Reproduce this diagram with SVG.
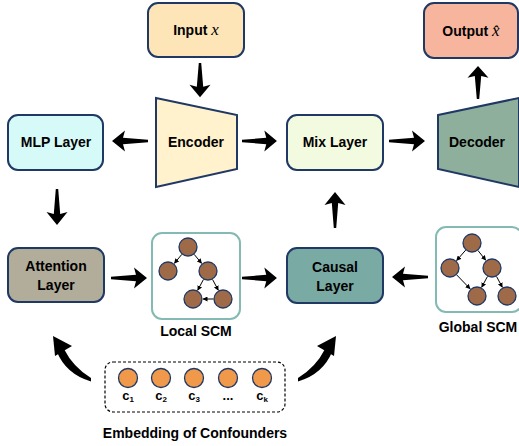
<svg xmlns="http://www.w3.org/2000/svg" xmlns:xlink="http://www.w3.org/1999/xlink" width="519" height="446" viewBox="0 0 519 446">
<defs>
<style>
.box{stroke:#1F3864;stroke-width:2}
.lbl{font-family:"Liberation Sans",Arial,sans-serif;font-weight:bold;font-size:14px;fill:#000;text-anchor:middle}
.scm{fill:#fff;stroke:#84BAB3;stroke-width:2}
.node{fill:#9E6A48;stroke:#1F3864;stroke-width:1.3}
.conf{fill:#F0994B;stroke:#1F3864;stroke-width:1.3}
.edge{stroke:#000;stroke-width:1;fill:none;marker-end:url(#ah)}
.clbl{font-family:"Liberation Sans",Arial,sans-serif;font-weight:bold;font-size:13px;fill:#000;text-anchor:middle}
</style>
<marker id="ah" viewBox="0 0 10 10" refX="9" refY="5" markerWidth="5" markerHeight="5" orient="auto" markerUnits="strokeWidth">
<path d="M0,0 L10,5 L0,10 Z" fill="#000"/>
</marker>
<path id="arr" d="M0,-1.2 L25,-3.2 L23,-10.5 L36,0 L23,10.5 L25,3.2 L0,1.2 Z" fill="#000"/>
</defs>
<rect width="519" height="446" fill="#fff"/>

<g id="input">
<rect class="box" x="148" y="3" width="96" height="54" rx="10" fill="#FDE5B8"/>
<text class="lbl" x="196" y="35">Input <tspan font-family="'Liberation Serif',serif" font-style="italic" font-weight="normal" font-size="17">x</tspan></text>
</g>
<g id="output">
<rect class="box" x="424" y="3" width="94" height="55" rx="10" fill="#F8B59D"/>
<text class="lbl" x="471" y="36">Output <tspan font-family="'Liberation Serif',serif" font-style="italic" font-weight="normal" font-size="17">x̂</tspan></text>
</g>
<g id="mlp">
<rect class="box" x="8" y="115" width="95" height="55" rx="10" fill="#D5FAF8"/>
<text class="lbl" x="56" y="147">MLP Layer</text>
</g>
<g id="encoder">
<polygon class="box" points="156,98 237,115 237,169 156,187" fill="#FFF2CC"/>
<text class="lbl" x="196" y="147">Encoder</text>
</g>
<g id="mix">
<rect class="box" x="287" y="115" width="96" height="55" rx="10" fill="#F2FADF"/>
<text class="lbl" x="335" y="147">Mix Layer</text>
</g>
<g id="decoder">
<polygon class="box" points="438,115 519,98 519,187 438,169" fill="#8EAF9C"/>
<text class="lbl" x="477" y="147">Decoder</text>
</g>
<g id="attention">
<rect class="box" x="8" y="248" width="96" height="54" rx="10" fill="#B2AC9A"/>
<text class="lbl" x="56" y="271">Attention</text>
<text class="lbl" x="56" y="290">Layer</text>
</g>
<g id="causal">
<rect class="box" x="287" y="248" width="96" height="55" rx="10" fill="#79AAA4"/>
<text class="lbl" x="335" y="272">Causal</text>
<text class="lbl" x="335" y="291">Layer</text>
</g>
<g id="local-scm">
<rect class="scm" x="152" y="233" width="88" height="86" rx="10"/>
<line class="edge" x1="181.9" y1="254.3" x2="174.4" y2="263.3"/>
<line class="edge" x1="194.1" y1="254.3" x2="201.6" y2="263.3"/>
<line class="edge" x1="203.5" y1="279.4" x2="197.7" y2="290.2"/>
<line class="edge" x1="212.5" y1="279.4" x2="218.3" y2="290.2"/>
<line class="edge" x1="213.5" y1="299" x2="203" y2="299"/>
<circle class="node" cx="188" cy="247" r="9"/>
<circle class="node" cx="168" cy="271" r="9"/>
<circle class="node" cx="208" cy="271" r="9"/>
<circle class="node" cx="193" cy="299" r="9"/>
<circle class="node" cx="223" cy="299" r="9"/>
<text class="lbl" x="196" y="336">Local SCM</text>
</g>
<g id="global-scm">
<rect class="scm" x="436" y="227" width="86" height="85" rx="10"/>
<line class="edge" x1="465.7" y1="250.1" x2="456.6" y2="260.5"/>
<line class="edge" x1="477.9" y1="250.4" x2="485.7" y2="260.2"/>
<line class="edge" x1="456.6" y1="274.8" x2="470.1" y2="288.8"/>
<line class="edge" x1="487.5" y1="276.4" x2="481.7" y2="287.2"/>
<line class="edge" x1="496.5" y1="276.4" x2="502.3" y2="287.2"/>
<circle class="node" cx="472" cy="243" r="9"/>
<circle class="node" cx="450" cy="268" r="9"/>
<circle class="node" cx="492" cy="268" r="9"/>
<circle class="node" cx="477" cy="296" r="9"/>
<circle class="node" cx="507" cy="296" r="9"/>
<text class="lbl" x="478" y="332">Global SCM</text>
</g>
<g id="confounders">
<rect x="105" y="362" width="180" height="50" rx="8" fill="none" stroke="#000" stroke-width="1.2" stroke-dasharray="3,2"/>
<circle class="conf" cx="128" cy="378" r="9.5"/>
<circle class="conf" cx="161" cy="378" r="9.5"/>
<circle class="conf" cx="194" cy="378" r="9.5"/>
<circle class="conf" cx="228" cy="378" r="9.5"/>
<circle class="conf" cx="262" cy="378" r="9.5"/>
<text class="clbl" x="128" y="400">c<tspan font-size="8" dy="2">1</tspan></text>
<text class="clbl" x="161" y="400">c<tspan font-size="8" dy="2">2</tspan></text>
<text class="clbl" x="194" y="400">c<tspan font-size="8" dy="2">3</tspan></text>
<text class="clbl" x="228" y="400" font-size="9">...</text>
<text class="clbl" x="262" y="400">c<tspan font-size="8" dy="2">k</tspan></text>
<text class="lbl" x="195" y="438">Embedding of Confounders</text>
</g>

<g id="connectors">
<use xlink:href="#arr" transform="translate(200,63) rotate(90) scale(0.95,1)"/>
<use xlink:href="#arr" transform="translate(148,141) rotate(180)"/>
<use xlink:href="#arr" transform="translate(242,141) scale(0.97,1)"/>
<use xlink:href="#arr" transform="translate(389,141)"/>
<use xlink:href="#arr" transform="translate(478,99) rotate(-90) scale(0.92,1)"/>
<use xlink:href="#arr" transform="translate(57,189) rotate(90)"/>
<use xlink:href="#arr" transform="translate(111,278)"/>
<use xlink:href="#arr" transform="translate(242,278) scale(0.97,1)"/>
<use xlink:href="#arr" transform="translate(428,277) rotate(180)"/>
<use xlink:href="#arr" transform="translate(335,228) rotate(-90)"/>
<g id="curve-left">
<path d="M91,381.5 Q66,374 57,352 L64,349 Q73,367 91,378 Z" fill="#000"/>
<polygon points="53,336 72,346 55,356" fill="#000"/>
</g>
<g id="curve-right">
<path d="M298,381.5 Q323,374 332,352 L325,349 Q316,367 298,378 Z" fill="#000"/>
<polygon points="336,336 317,346 334,356" fill="#000"/>
</g>
</g>
</svg>
